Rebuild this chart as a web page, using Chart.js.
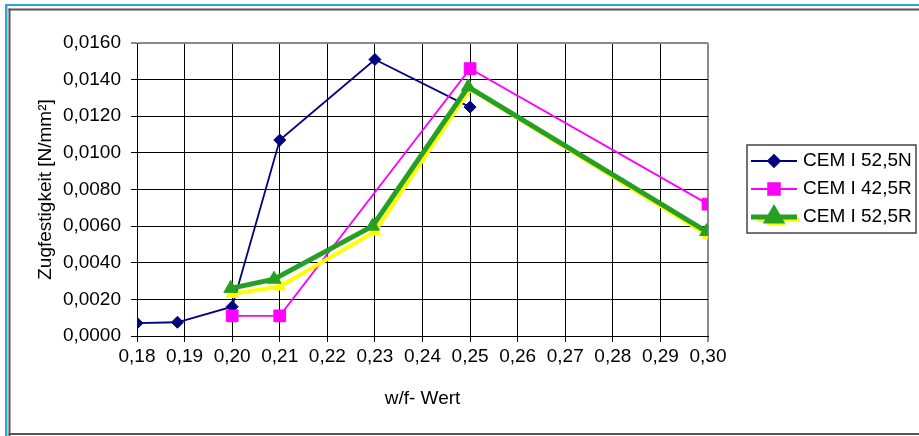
<!DOCTYPE html>
<html>
<head>
<meta charset="utf-8">
<script src="https://cdn.jsdelivr.net/npm/chart.js@4.4.0/dist/chart.umd.min.js"></script>
<style>
  html, body { margin: 0; padding: 0; background: #fff; }
  canvas { display: block; }
</style>
</head>
<body>
<canvas id="chart" width="919" height="436"></canvas>
<script>
// Axis ticks
const xTicks = [0.18, 0.19, 0.20, 0.21, 0.22, 0.23, 0.24, 0.25, 0.26, 0.27, 0.28, 0.29, 0.30];
const yTicks = [0, 0.002, 0.004, 0.006, 0.008, 0.010, 0.012, 0.014, 0.016];

// CEM I 52,5N
const n525Wf = [0.18, 0.1885, 0.20, 0.21, 0.23, 0.25];
const n525Strength = [0.0007, 0.00075, 0.0016, 0.0107, 0.0151, 0.0125];

// CEM I 42,5R
const r425Wf = [0.20, 0.21, 0.25, 0.30];
const r425Strength = [0.0011, 0.0011, 0.0146, 0.0072];

// CEM I 52,5R (green)
const r525Wf = [0.1997, 0.2088, 0.2295, 0.2496, 0.2997];
const r525Strength = [0.0026, 0.0031, 0.0060, 0.0136, 0.0057];

// CEM I 52,5R (yellow companion series, drawn beneath the green one)
const r525bWf = [0.20, 0.21, 0.23, 0.25, 0.30];
const r525bStrength = [0.0023, 0.0027, 0.0057, 0.0135, 0.0055];

const FONT = "'Liberation Sans', Arial, sans-serif";

const pts = (xs, ys) => xs.map((x, i) => ({ x, y: ys[i] }));
const comma = (v, d) => v.toFixed(d).replace('.', ',');

// Page frame: blue outer edge and dark grey chart border
const framePlugin = {
  id: 'frame',
  beforeDraw(chart) {
    const ctx = chart.ctx;
    ctx.save();
    ctx.fillStyle = '#fff';
    ctx.fillRect(0, 0, chart.width, chart.height);
    ctx.fillStyle = '#29a8e0';
    ctx.fillRect(5, 4, chart.width - 5, 2);
    ctx.fillRect(5, 4, 2.5, chart.height - 4);
    ctx.fillStyle = '#555';
    ctx.fillRect(8.5, 8.5, chart.width - 8.5, 2);
    ctx.fillRect(8.5, 8.5, 2, chart.height - 8.5);
    ctx.fillRect(8.5, 433, chart.width - 8.5, 2);
    ctx.restore();
  }
};

// Legend box with line + marker samples taken from the dataset styles
const legendPlugin = {
  id: 'boxLegend',
  afterDraw(chart) {
    const ctx = chart.ctx;
    const box = { x: 747, y: 145, w: 169, h: 88 };
    const rows = [161, 189, 217];
    ctx.save();
    ctx.fillStyle = '#fff';
    ctx.fillRect(box.x, box.y, box.w, box.h);
    ctx.strokeStyle = '#444';
    ctx.lineWidth = 1.5;
    ctx.strokeRect(box.x, box.y, box.w, box.h);

    const drawSample = (ds, y, dx, dy, x0, x1) => {
      ctx.strokeStyle = ds.borderColor;
      ctx.lineWidth = ds.borderWidth;
      ctx.beginPath();
      ctx.moveTo(x0 + dx, y + dy);
      ctx.lineTo(x1 + dx, y + dy);
      ctx.stroke();
      ctx.fillStyle = ds.pointBackgroundColor;
      ctx.strokeStyle = ds.pointBorderColor;
      Chart.helpers.drawPoint(ctx, {
        pointStyle: ds.pointStyle, radius: ds.pointRadius, rotation: 0,
        borderWidth: ds.pointBorderWidth
      }, 774 + dx, y + dy);
    };

    const datasets = chart.data.datasets;
    datasets.forEach(ds => {
      if (ds.legendUnder !== undefined) {
        drawSample(ds, rows[ds.legendUnder], 2, 3, 755, 798);
      }
    });
    datasets.forEach(ds => {
      if (ds.legendRow === undefined) return;
      const y = rows[ds.legendRow];
      drawSample(ds, y, 0, 0, 751, 797);
      ctx.fillStyle = '#000';
      ctx.font = '19px ' + FONT;
      ctx.textBaseline = 'middle';
      ctx.textAlign = 'left';
      ctx.fillText(ds.label, 803, y);
    });
    ctx.restore();
  }
};

const lastX = xTicks[xTicks.length - 1];
const lastY = yTicks[yTicks.length - 1];

new Chart(document.getElementById('chart'), {
  type: 'scatter',
  data: {
    datasets: [
      {
        label: 'CEM I 52,5R',
        legendRow: 2,
        data: pts(r525Wf, r525Strength),
        showLine: true,
        borderColor: '#25a025',
        borderWidth: 5,
        pointStyle: 'triangle',
        pointRadius: 8,
        pointBackgroundColor: '#25a025',
        pointBorderColor: '#25a025',
        pointBorderWidth: 1,
        order: 1
      },
      {
        label: '',
        legendUnder: 2,
        data: pts(r525bWf, r525bStrength),
        showLine: true,
        borderColor: '#ffff00',
        borderWidth: 4,
        pointStyle: 'triangle',
        pointRadius: 7,
        pointBackgroundColor: '#ffff00',
        pointBorderColor: '#ffff00',
        pointBorderWidth: 1,
        order: 2
      },
      {
        label: 'CEM I 42,5R',
        legendRow: 1,
        data: pts(r425Wf, r425Strength),
        showLine: true,
        borderColor: '#ff00ff',
        borderWidth: 1.8,
        pointStyle: 'rect',
        pointRadius: 8.3,
        pointBackgroundColor: '#ff00ff',
        pointBorderColor: '#ff00ff',
        pointBorderWidth: 1,
        order: 3
      },
      {
        label: 'CEM I 52,5N',
        legendRow: 0,
        data: pts(n525Wf, n525Strength),
        showLine: true,
        borderColor: '#000080',
        borderWidth: 1.8,
        pointStyle: 'rectRot',
        pointRadius: 6,
        pointBackgroundColor: '#000080',
        pointBorderColor: '#000080',
        pointBorderWidth: 1,
        order: 4
      }
    ]
  },
  options: {
    responsive: false,
    animation: false,
    events: [],
    layout: { padding: { left: 0, top: 43, right: 211, bottom: 0 } },
    plugins: {
      legend: { display: false },
      tooltip: { enabled: false }
    },
    elements: { line: { tension: 0 } },
    scales: {
      x: {
        type: 'linear',
        min: xTicks[0],
        max: lastX,
        afterBuildTicks: s => { s.ticks = xTicks.map(v => ({ value: v })); },
        afterFit: s => { s.height = 100; },
        grid: {
          color: c => (c.tick && Math.abs(c.tick.value - lastX) < 1e-9) ? '#8a8a8a' : '#000',
          lineWidth: c => (c.tick && Math.abs(c.tick.value - lastX) < 1e-9) ? 2 : 1,
          tickLength: 6,
          drawTicks: true
        },
        border: { color: '#000', width: 1 },
        ticks: {
          color: '#000',
          font: { family: FONT, size: 19 },
          padding: 3,
          maxRotation: 0,
          autoSkip: false,
          callback: v => comma(v, 2)
        },
        title: {
          display: true,
          text: 'w/f- Wert',
          color: '#000',
          font: { family: FONT, size: 19 },
          padding: { top: 0, bottom: 26 }
        }
      },
      y: {
        type: 'linear',
        min: yTicks[0],
        max: lastY,
        afterBuildTicks: s => { s.ticks = yTicks.map(v => ({ value: v })); },
        afterFit: s => { s.width = 137; },
        grid: {
          color: c => (c.tick && Math.abs(c.tick.value - lastY) < 1e-9) ? '#8a8a8a' : '#000',
          lineWidth: c => (c.tick && Math.abs(c.tick.value - lastY) < 1e-9) ? 2 : 1,
          tickLength: 6,
          drawTicks: true
        },
        border: { color: '#000', width: 1 },
        ticks: {
          color: '#000',
          font: { family: FONT, size: 19 },
          padding: 10,
          callback: v => comma(v, 4)
        },
        title: {
          display: true,
          text: 'Zugfestigkeit [N/mm²]',
          color: '#000',
          font: { family: FONT, size: 19 },
          padding: { top: 34, bottom: 0 }
        }
      }
    }
  },
  plugins: [framePlugin, legendPlugin]
});
</script>
</body>
</html>
